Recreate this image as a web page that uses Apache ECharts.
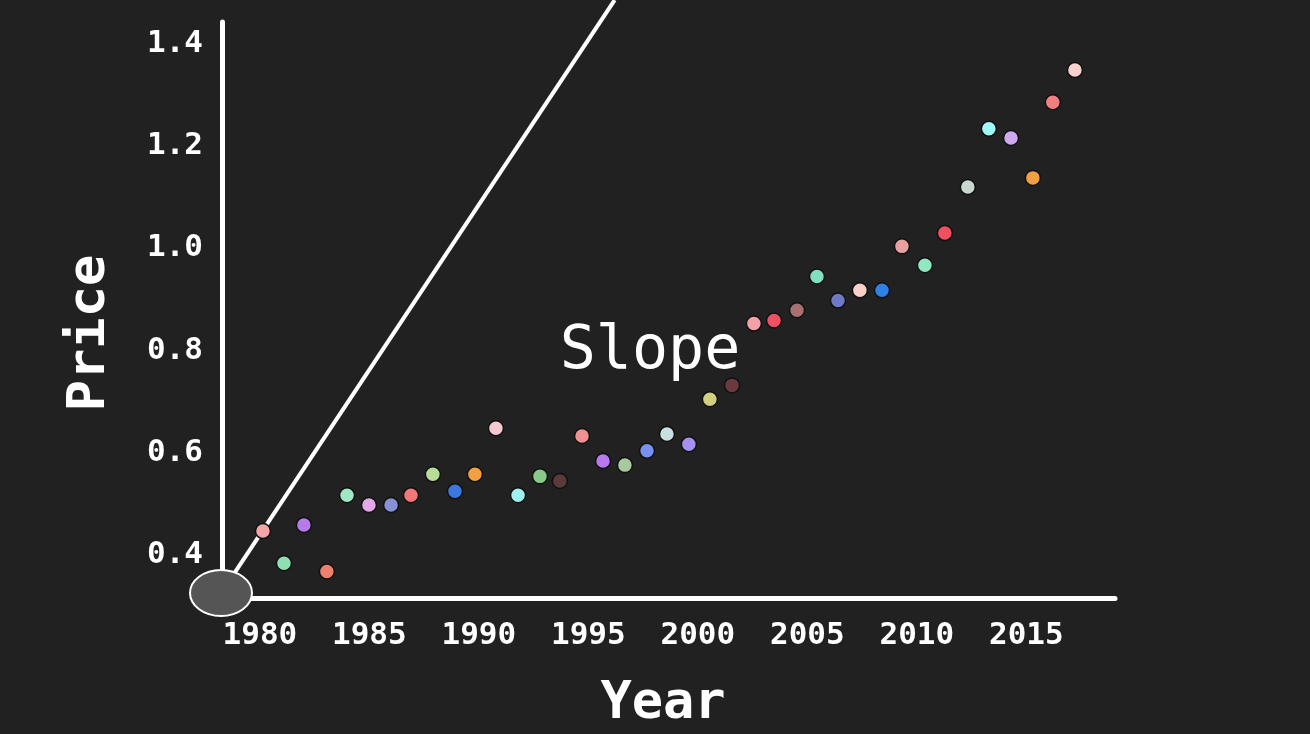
<!DOCTYPE html>
<html>
<head>
<meta charset="utf-8">
<script src="https://cdn.jsdelivr.net/npm/echarts@6/dist/echarts.min.js"></script>
<style>html,body{margin:0;background:#212121}#c{width:1310px;height:734px}</style>
</head>
<body>
<div id="c"></div>
<script>
var years = [1980.14, 1981.10, 1982.01, 1983.06, 1983.98, 1984.98, 1985.99, 1986.90, 1987.90, 1988.91,
  1989.82, 1990.78, 1991.79, 1992.79, 1993.70, 1994.71, 1995.67, 1996.67, 1997.68, 1998.59,
  1999.59, 2000.55, 2001.56, 2002.56, 2003.48, 2004.53, 2005.44, 2006.40, 2007.40, 2008.41,
  2009.32, 2010.37, 2011.28, 2012.33, 2013.29, 2014.30, 2015.30, 2016.21, 2017.22];
var prices = [0.447, 0.384, 0.459, 0.368, 0.517, 0.498, 0.498, 0.517, 0.558, 0.525,
  0.558, 0.648, 0.517, 0.554, 0.545, 0.633, 0.584, 0.576, 0.604, 0.637,
  0.617, 0.705, 0.732, 0.853, 0.859, 0.879, 0.945, 0.898, 0.918, 0.918,
  1.004, 0.967, 1.030, 1.120, 1.234, 1.216, 1.138, 1.286, 1.349];
var colors = ['#f4a6a6', '#8fe0b0', '#b57be8', '#ee8070', '#9ee8c4', '#e4a8e8', '#8890d8', '#f07878',
  '#b6dc98', '#3a78e0', '#f4a040', '#f8c8d0', '#a0f0f0', '#88c888', '#5a3a3a', '#f09090',
  '#b878f0', '#a8c8a0', '#7890f0', '#c8e0e0', '#a890f0', '#d0d080', '#6a3a40', '#f4a0a8',
  '#f05060', '#a87070', '#80e0c0', '#7078c8', '#f8d0c8', '#3080e8', '#e8a0a0', '#90e8c0',
  '#f05060', '#c8d8d0', '#a0f8f8', '#d0a8f0', '#f0a040', '#f08080', '#f8d0d0'];
var yTicks = [0.4, 0.6, 0.8, 1.0, 1.2, 1.4];
var xTicks = [1980, 1985, 1990, 1995, 2000, 2005, 2010, 2015];
var slopeLine = [[1978.3, 0.33], [1996.2, 1.486]];

var chart = echarts.init(document.getElementById('c'));
var pts = years.map(function (yr, i) {
  return { value: [yr, prices[i]], itemStyle: { color: colors[i] } };
});
var lbl = { color: '#fff', fontFamily: 'DejaVu Sans Mono', fontWeight: 'bold', fontSize: 31 };
chart.setOption({
  backgroundColor: '#212121',
  animation: false,
  grid: { left: 222, top: 22, right: 195, bottom: 136 },
  xAxis: {
    type: 'value', min: 1978.27, max: 2019.05,
    splitLine: { show: false },
    axisLine: { lineStyle: { color: '#fff', width: 5 } },
    axisTick: { show: false },
    axisLabel: Object.assign({ customValues: xTicks, margin: 22, formatter: function (v) { return String(v); } }, lbl)
  },
  yAxis: {
    type: 'value', min: 0.316, max: 1.443,
    splitLine: { show: false },
    axisLine: { lineStyle: { color: '#fff', width: 5 } },
    axisTick: { show: false },
    axisLabel: Object.assign({ customValues: yTicks, margin: 19, formatter: function (v) { return v.toFixed(1); } }, lbl)
  },
  series: [
    {
      type: 'line', data: slopeLine, symbol: 'none', clip: false,
      lineStyle: { color: '#fff', width: 4 }, z: 1
    },
    {
      type: 'scatter', data: pts, symbolSize: 15,
      itemStyle: { opacity: 1, borderColor: '#111', borderWidth: 1.5 }, z: 3
    }
  ],
  graphic: [
    { type: 'ellipse', shape: { cx: 221, cy: 593, rx: 31, ry: 23 },
      style: { fill: '#555', stroke: '#fff', lineWidth: 2 }, z: 5 },
    { type: 'text', x: 90, y: 333, rotation: Math.PI / 2,
      style: { text: 'Price', fill: '#fff', font: 'bold 52px "DejaVu Sans Mono"', align: 'center', verticalAlign: 'middle' } },
    { type: 'text', x: 663, y: 704,
      style: { text: 'Year', fill: '#fff', font: 'bold 52px "DejaVu Sans Mono"', align: 'center', verticalAlign: 'middle' } },
    { type: 'text', x: 650, y: 352,
      style: { text: 'Slope', fill: '#fff', font: '60px "DejaVu Sans Mono"', align: 'center', verticalAlign: 'middle' } }
  ]
});
</script>
</body>
</html>
